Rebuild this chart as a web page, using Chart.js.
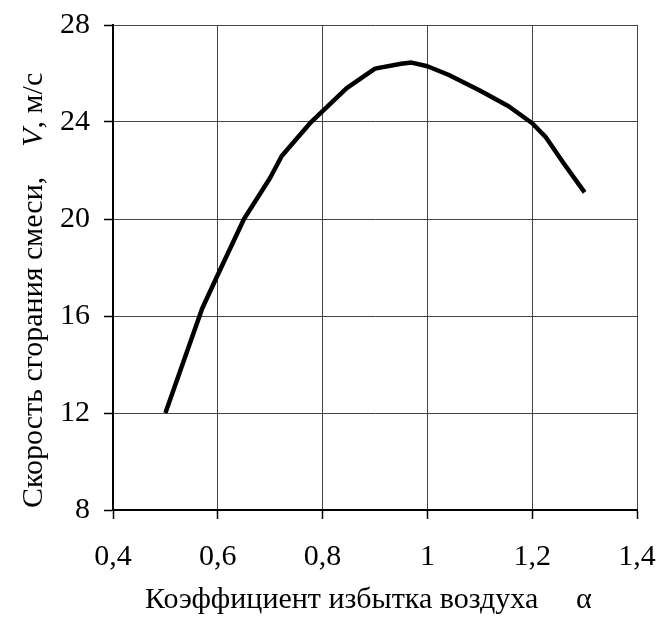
<!DOCTYPE html>
<html>
<head>
<meta charset="utf-8">
<script src="https://cdn.jsdelivr.net/npm/chart.js@4/dist/chart.umd.min.js"></script>
<style>
html,body{margin:0;padding:0;background:#fff;}
#wrap{width:656px;height:633px;position:relative;}
</style>
</head>
<body>
<div id="wrap"><canvas id="c" width="656" height="633"></canvas></div>
<script>
const alphaValues = [0.5, 0.57, 0.6, 0.65, 0.7, 0.722, 0.75, 0.776, 0.8, 0.846, 0.9, 0.95, 0.97, 1.0, 1.04, 1.1, 1.155, 1.2, 1.225, 1.26, 1.3];
const speedValues = [12.0, 16.3, 17.7, 20.0, 21.7, 22.6, 23.3, 23.95, 24.45, 25.4, 26.2, 26.4, 26.45, 26.3, 25.95, 25.3, 24.65, 23.95, 23.4, 22.3, 21.1];
const xTickLabels = ['0,4', '0,6', '0,8', '1', '1,2', '1,4'];
const yTickLabels = ['8', '12', '16', '20', '24', '28'];
const xTitle = 'Коэффициент избытка воздуха';
const xTitleSymbol = 'α';
const yTitleMain = 'Скорость сгорания смеси,';
const yTitleSymbol = 'V';
const yTitleUnit = ', м/с';

const FONT = '"Liberation Serif", "Times New Roman", serif';

const titlesPlugin = {
  id: 'titles',
  afterDraw(chart) {
    const ctx = chart.ctx;
    ctx.save();
    ctx.fillStyle = '#000';
    ctx.font = '30px ' + FONT;
    ctx.textBaseline = 'alphabetic';
    ctx.textAlign = 'left';
    ctx.fillText(xTitle, 145, 608);
    ctx.fillText(xTitleSymbol, 576, 608);
    // y title rotated
    ctx.translate(42, 508);
    ctx.rotate(-Math.PI / 2);
    ctx.font = '30px ' + FONT;
    ctx.fillText(yTitleMain, 0, 0);
    let w = ctx.measureText(yTitleMain).width + 30;
    ctx.font = 'italic 30px ' + FONT;
    ctx.fillText(yTitleSymbol, w, 0);
    w += ctx.measureText(yTitleSymbol).width;
    ctx.font = '30px ' + FONT;
    ctx.fillText(yTitleUnit, w, 0);
    ctx.restore();
  }
};

new Chart(document.getElementById('c'), {
  type: 'line',
  data: {
    datasets: [{
      data: alphaValues.map((x, i) => ({x: x, y: speedValues[i]})),
      borderColor: '#000',
      borderWidth: 4.5,
      pointRadius: 0,
      tension: 0,
      fill: false,
      borderJoinStyle: 'round',
      borderCapStyle: 'butt'
    }]
  },
  options: {
    responsive: false,
    animation: false,
    devicePixelRatio: 1,
    layout: {padding: {left: 0, right: 19, top: 25, bottom: 0}},
    plugins: {legend: {display: false}, tooltip: {enabled: false}, title: {display: false}},
    scales: {
      x: {
        type: 'linear',
        min: 0.4,
        max: 1.4,
        ticks: {
          stepSize: 0.2,
          color: '#000',
          font: {family: FONT, size: 30},
          padding: 20,
          maxRotation: 0,
          autoSkip: false,
          callback: (v, i) => xTickLabels[i]
        },
        grid: {color: '#444', lineWidth: 1, tickLength: 9, tickColor: '#000', tickWidth: 1.5},
        border: {color: '#000', width: 2},
        afterFit: (s) => { s.height = 123; s.paddingLeft = 0; s.paddingRight = 0; s.paddingTop = 0; s.paddingBottom = 0; }
      },
      y: {
        type: 'linear',
        min: 8,
        max: 28,
        ticks: {
          stepSize: 4,
          color: '#000',
          font: {family: FONT, size: 30},
          padding: 14,
          callback: (v, i) => yTickLabels[i]
        },
        grid: {color: '#444', lineWidth: 1, tickLength: 9, tickColor: '#000', tickWidth: 1.5},
        border: {color: '#000', width: 2},
        afterFit: (s) => { s.width = 113; s.paddingLeft = 0; s.paddingRight = 0; s.paddingTop = 0; s.paddingBottom = 0; }
      }
    }
  },
  plugins: [titlesPlugin]
});
</script>
</body>
</html>
